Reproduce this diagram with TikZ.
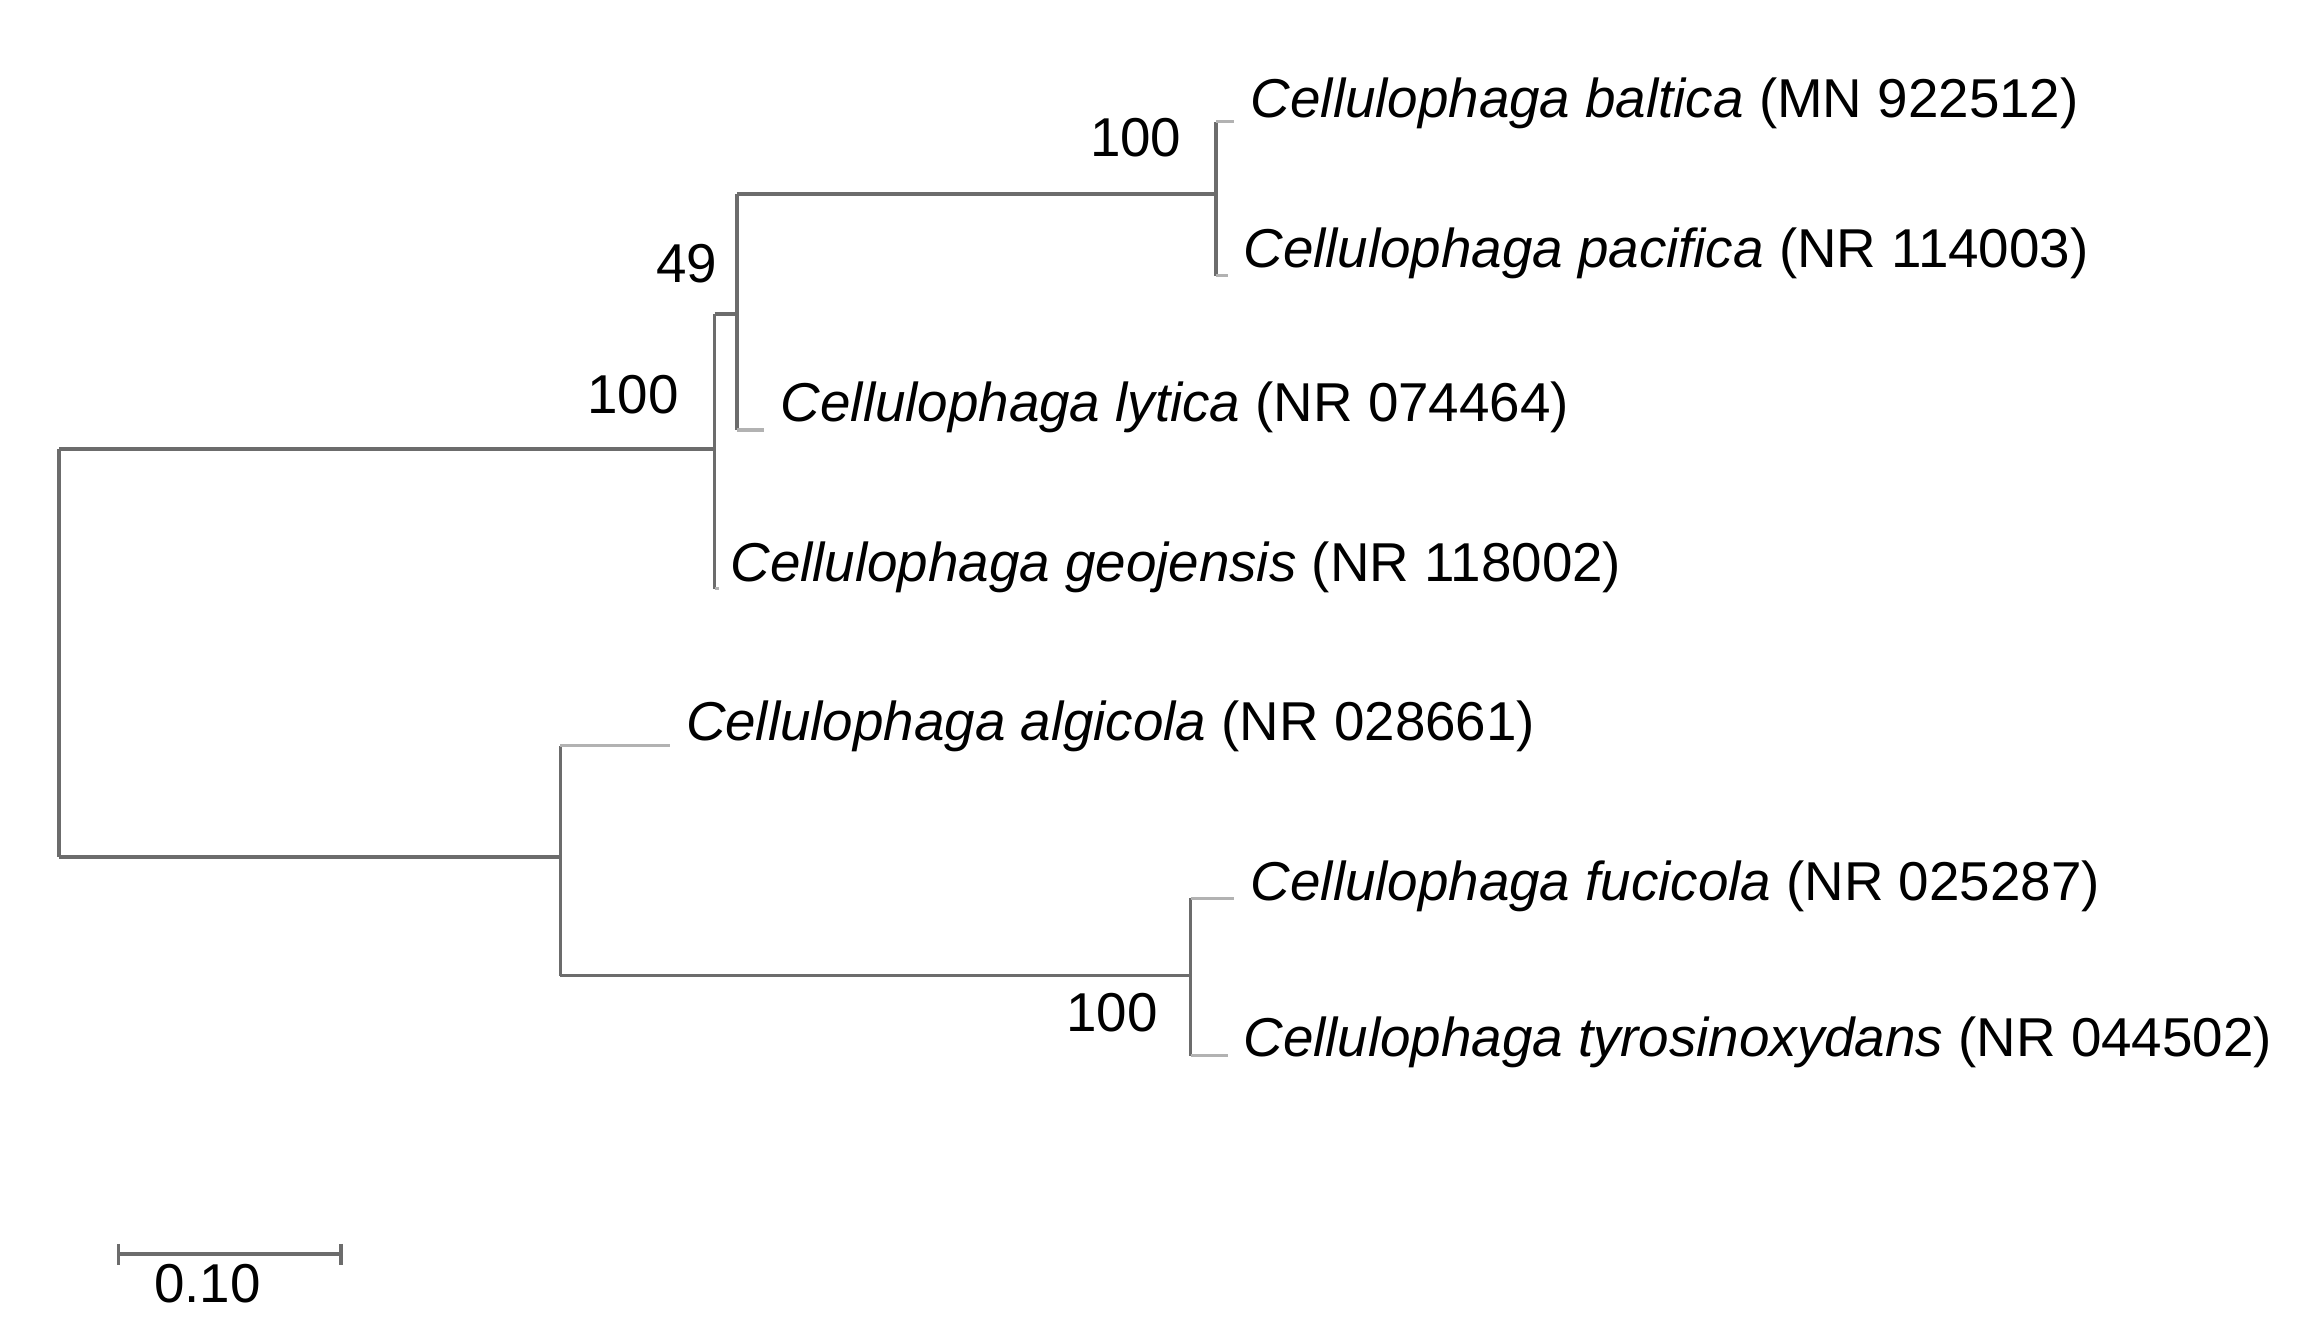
\documentclass[tikz,border=0pt]{standalone}
\usepackage{fontspec}
\setmainfont{Liberation Sans}
\begin{document}
\begin{tikzpicture}[x=0.01cm,y=-0.01cm,
  br/.style={draw=gray!85!black,line width=0.7pt},
  tip/.style={draw=gray!60,line width=0.6pt},
  lab/.style={anchor=west,inner sep=0pt,font=\fontsize{10.5}{12}\selectfont},
  bs/.style={inner sep=0pt,font=\fontsize{10.5}{12}\selectfont}]
\useasboundingbox[fill=white] (0,0) rectangle (1552,895);
% internal coordinates
\coordinate (r1) at (40,303); \coordinate (r2) at (40,578);
\coordinate (u) at (482,303); \coordinate (ut) at (482,212); \coordinate (ub) at (482,397);
\coordinate (v) at (497,212); \coordinate (vt) at (497,131); \coordinate (vb) at (497,290);
\coordinate (w) at (820,131); \coordinate (wt) at (820,82); \coordinate (wb) at (820,186);
\coordinate (l) at (378,578); \coordinate (lt) at (378,503); \coordinate (lb) at (378,658);
\coordinate (m) at (803,658); \coordinate (mt) at (803,606); \coordinate (mb) at (803,712);
% tips
\coordinate (t1) at (832,82); \coordinate (t2) at (828,186); \coordinate (t3) at (515,290);
\coordinate (t4) at (485,397); \coordinate (t5) at (452,503); \coordinate (t6) at (832,606);
\coordinate (t7) at (828,712);
\draw[br] (r1) -- (r2);
\draw[br] (r1) -- (u); \draw[br] (ut) -- (ub);
\draw[br] (ut) -- (v); \draw[br] (vt) -- (vb);
\draw[br] (vt) -- (w); \draw[br] (wt) -- (wb);
\draw[br] (r2) -- (l); \draw[br] (lt) -- (lb);
\draw[br] (lb) -- (m); \draw[br] (mt) -- (mb);
\draw[tip] (wt) -- (t1); \draw[tip] (wb) -- (t2); \draw[tip] (vb) -- (t3);
\draw[tip] (ub) -- (t4); \draw[tip] (lt) -- (t5); \draw[tip] (mt) -- (t6); \draw[tip] (mb) -- (t7);
% labels
\node[lab] (n1) at (843,70) {\textit{Cellulophaga baltica} (MN 922512)};
\node[lab] (n2) at (838,171) {\textit{Cellulophaga pacifica} (NR 114003)};
\node[lab] (n3) at (526,275) {\textit{Cellulophaga lytica} (NR 074464)};
\node[lab] (n4) at (492,383) {\textit{Cellulophaga geojensis} (NR 118002)};
\node[lab] (n5) at (462,490) {\textit{Cellulophaga algicola} (NR 028661)};
\node[lab] (n6) at (843,598) {\textit{Cellulophaga fucicola} (NR 025287)};
\node[lab] (n7) at (838,703) {\textit{Cellulophaga tyrosinoxydans} (NR 044502)};
% bootstrap
\node[bs] (b1) at (766,93) {100};
\node[bs] (b2) at (463,178) {49};
\node[bs] (b3) at (427,266) {100};
\node[bs] (b4) at (750,683) {100};
% scale bar
\coordinate (s1) at (80,846); \coordinate (s2) at (230,846);
\draw[br] (s1) -- (s2);
\draw[br] (80,839) -- (80,853); \draw[br] (230,839) -- (230,853);
\node[bs] (sl) at (140,866) {0.10};
\end{tikzpicture}
\end{document}
